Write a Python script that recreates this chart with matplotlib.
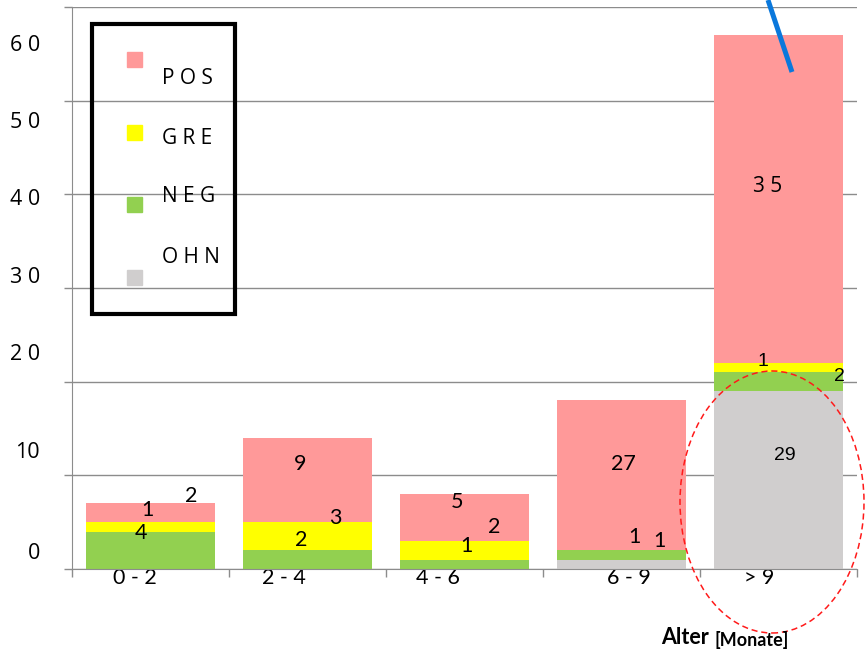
import matplotlib
matplotlib.use("Agg")
import matplotlib.pyplot as plt
from matplotlib.patches import Rectangle, Ellipse
from matplotlib.lines import Line2D

# data (stacked from bottom: OHN, NEG, GRE, POS)
categories = ["0 - 2", "2 - 4", "4 - 6", "6 - 9", "> 9"]
ohn = [0, 0, 0, 1, 19]
neg = [4, 2, 1, 1, 2]
gre = [1, 3, 2, 0, 1]
pos = [2, 9, 5, 16, 35]

series_names = ["POS", "GRE", "NEG", "OHN"]
colors = {"POS": "#ff9999", "GRE": "#ffff00", "NEG": "#92d050", "OHN": "#d0cece"}

# labels as they stand in the picture (text, category, dx, y)
bar_labels = [
    ("1", 0, -0.02, 6.3), ("2", 0, 0.26, 7.8), ("4", 0, -0.06, 3.8),
    ("9", 1, -0.05, 11.2), ("3", 1, 0.18, 5.4), ("2", 1, -0.04, 3.1),
    ("5", 2, -0.05, 7.2), ("2", 2, 0.19, 4.5), ("1", 2, 0.01, 2.5),
    ("27", 3, 0.01, 11.2), ("1", 3, 0.08, 3.4), ("1", 3, 0.24, 3.0),
]
bar5_labels = [("1", 4, -0.10, 22.1), ("2", 4, 0.39, 20.6), ("29", 4, 0.04, 12.1)]

ytick_vals = [0, 10, 20, 30, 40, 50, 60]
ytick_text = ["0", "10", "2 0", "3 0", "4 0", "5 0", "6 0"]
ytick_pos = [1.9, 12.7, 23.2, 31.4, 39.7, 47.9, 56.2]
xlabel_shift = [-0.10, -0.15, -0.17, 0.05, -0.12]

W, H = 865, 656
fig = plt.figure(figsize=(W / 100, H / 100), dpi=100)
ax = fig.add_axes([72 / W, 1 - 569 / H, (857 - 72) / W, (569 - 7) / H])


def px(x, y):
    return (x / W, 1 - y / H)


x = list(range(len(categories)))
bottom = [0] * len(x)
for name, vals in [("OHN", ohn), ("NEG", neg), ("GRE", gre), ("POS", pos)]:
    ax.bar(x, vals, width=0.82, bottom=bottom, color=colors[name], zorder=2)
    bottom = [b + v for b, v in zip(bottom, vals)]

ax.set_xlim(-0.5, 4.5)
ax.set_ylim(0, 60)

# gridlines and ticks
ax.set_yticks(ytick_vals)
ax.set_yticklabels([])
ax.set_yticks(ytick_pos, minor=True)
ax.set_yticklabels(ytick_text, minor=True, fontsize=15.5, family="Open Sans")
ax.tick_params(axis="y", which="major", length=6, color="#8c8c8c", width=1)
ax.tick_params(axis="y", which="minor", length=0, pad=23)
ax.grid(axis="y", color="#8c8c8c", linewidth=1, zorder=0)

ax.set_xticks([-0.5, 0.5, 1.5, 2.5, 3.5, 4.5])
ax.set_xticklabels([])
ax.set_xticks([i + s for i, s in zip(x, xlabel_shift)], minor=True)
ax.set_xticklabels(categories, minor=True, fontsize=15.5, family="Lato")
ax.tick_params(axis="x", which="major", length=6, color="#8c8c8c", width=1)
ax.tick_params(axis="x", which="minor", length=0, pad=-1)

for s in ["top", "right"]:
    ax.spines[s].set_visible(False)
for s in ["left", "bottom"]:
    ax.spines[s].set_color("#8c8c8c")
ax.set_axisbelow(True)

for t, i, dx, y in bar_labels:
    ax.text(i + dx, y, t, ha="center", va="center", fontsize=15.5, family="Lato", zorder=3)
for t, i, dx, y in bar5_labels:
    ax.text(i + dx, y, t, ha="center", va="center", fontsize=14,
            family="Liberation Sans", zorder=3)
ax.text(4 - 0.07, 40.8, "3 5", ha="center", va="center", fontsize=15,
        family="Open Sans", zorder=3)

# legend box drawn by hand
fig.patches.append(Rectangle(px(91.5, 313.5), 143.5 / W, 290 / H, transform=fig.transFigure,
                             fill=False, edgecolor="black", linewidth=3))
sq_y = [59, 132, 204, 277]
txt_y = [79, 139, 197, 257]
for name, sy, ty in zip(series_names, sq_y, txt_y):
    fig.patches.append(Rectangle(px(127, sy + 7.5), 15 / W, 15 / H, transform=fig.transFigure,
                                 color=colors[name]))
    fig.text(*px(162, ty), " ".join(name), ha="left", va="center", fontsize=15,
             family="Open Sans")

# blue stroke and red dashed ellipse
fig.lines.append(Line2D([768 / W, 792 / W], [1 - 0 / H, 1 - 72 / H], transform=fig.transFigure,
                        color="#0a78dc", linewidth=3.6, solid_capstyle="butt"))
fig.patches.append(Ellipse(px(772, 502), 184 / W, 262 / H, transform=fig.transFigure,
                           fill=False, edgecolor="#ff1a1a", linestyle=(0, (4, 2.5)),
                           linewidth=1.1))

fig.text(*px(661, 638), "Alter", ha="left", va="center", fontsize=15.5, fontweight="bold",
         family="Lato")
fig.text(*px(715, 640), "[Monate]", ha="left", va="center", fontsize=13, fontweight="bold",
         family="Lato")

fig.savefig("out.png", dpi=100)
